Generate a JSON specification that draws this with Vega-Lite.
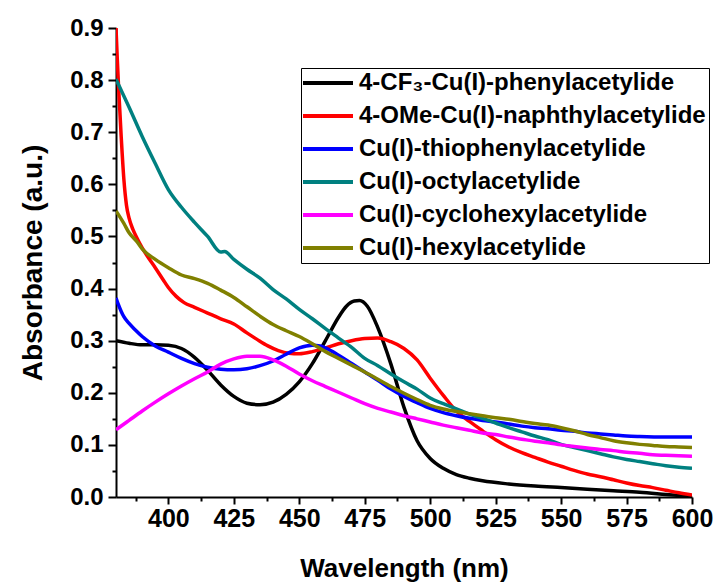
{
  "$schema": "https://vega.github.io/schema/vega-lite/v6.json",
  "width": 576,
  "height": 469,
  "autosize": "none",
  "padding": {"left": 116, "top": 28, "right": 26, "bottom": 86},
  "background": "white",
  "config": {
    "view": {"stroke": null},
    "font": "Liberation Sans",
    "axis": {
      "grid": false,
      "labelFlush": false,
      "labelOverlap": false,
      "domainColor": "#000000",
      "domainWidth": 2,
      "tickColor": "#000000",
      "tickWidth": 2,
      "labelColor": "#000000",
      "labelFont": "Liberation Sans",
      "labelFontWeight": "bold",
      "titleFont": "Liberation Sans",
      "titleFontWeight": "bold",
      "titleColor": "#000000"
    }
  },
  "datasets": {
    "spectra": [
      {"series": "4-CF₃-Cu(I)-phenylacetylide", "wavelength": 380, "absorbance": 0.300},
      {"series": "4-CF₃-Cu(I)-phenylacetylide", "wavelength": 385, "absorbance": 0.295},
      {"series": "4-CF₃-Cu(I)-phenylacetylide", "wavelength": 390, "absorbance": 0.292},
      {"series": "4-CF₃-Cu(I)-phenylacetylide", "wavelength": 395, "absorbance": 0.292},
      {"series": "4-CF₃-Cu(I)-phenylacetylide", "wavelength": 400, "absorbance": 0.291},
      {"series": "4-CF₃-Cu(I)-phenylacetylide", "wavelength": 405, "absorbance": 0.285},
      {"series": "4-CF₃-Cu(I)-phenylacetylide", "wavelength": 410, "absorbance": 0.268},
      {"series": "4-CF₃-Cu(I)-phenylacetylide", "wavelength": 415, "absorbance": 0.243},
      {"series": "4-CF₃-Cu(I)-phenylacetylide", "wavelength": 420, "absorbance": 0.215},
      {"series": "4-CF₃-Cu(I)-phenylacetylide", "wavelength": 425, "absorbance": 0.193},
      {"series": "4-CF₃-Cu(I)-phenylacetylide", "wavelength": 430, "absorbance": 0.180},
      {"series": "4-CF₃-Cu(I)-phenylacetylide", "wavelength": 435, "absorbance": 0.177},
      {"series": "4-CF₃-Cu(I)-phenylacetylide", "wavelength": 440, "absorbance": 0.182},
      {"series": "4-CF₃-Cu(I)-phenylacetylide", "wavelength": 445, "absorbance": 0.197},
      {"series": "4-CF₃-Cu(I)-phenylacetylide", "wavelength": 450, "absorbance": 0.221},
      {"series": "4-CF₃-Cu(I)-phenylacetylide", "wavelength": 455, "absorbance": 0.256},
      {"series": "4-CF₃-Cu(I)-phenylacetylide", "wavelength": 460, "absorbance": 0.300},
      {"series": "4-CF₃-Cu(I)-phenylacetylide", "wavelength": 465, "absorbance": 0.345},
      {"series": "4-CF₃-Cu(I)-phenylacetylide", "wavelength": 468, "absorbance": 0.366},
      {"series": "4-CF₃-Cu(I)-phenylacetylide", "wavelength": 471, "absorbance": 0.376},
      {"series": "4-CF₃-Cu(I)-phenylacetylide", "wavelength": 473, "absorbance": 0.377},
      {"series": "4-CF₃-Cu(I)-phenylacetylide", "wavelength": 476, "absorbance": 0.366},
      {"series": "4-CF₃-Cu(I)-phenylacetylide", "wavelength": 480, "absorbance": 0.325},
      {"series": "4-CF₃-Cu(I)-phenylacetylide", "wavelength": 485, "absorbance": 0.255},
      {"series": "4-CF₃-Cu(I)-phenylacetylide", "wavelength": 490, "absorbance": 0.172},
      {"series": "4-CF₃-Cu(I)-phenylacetylide", "wavelength": 495, "absorbance": 0.108},
      {"series": "4-CF₃-Cu(I)-phenylacetylide", "wavelength": 500, "absorbance": 0.074},
      {"series": "4-CF₃-Cu(I)-phenylacetylide", "wavelength": 505, "absorbance": 0.055},
      {"series": "4-CF₃-Cu(I)-phenylacetylide", "wavelength": 510, "absorbance": 0.043},
      {"series": "4-CF₃-Cu(I)-phenylacetylide", "wavelength": 515, "absorbance": 0.036},
      {"series": "4-CF₃-Cu(I)-phenylacetylide", "wavelength": 520, "absorbance": 0.031},
      {"series": "4-CF₃-Cu(I)-phenylacetylide", "wavelength": 530, "absorbance": 0.025},
      {"series": "4-CF₃-Cu(I)-phenylacetylide", "wavelength": 540, "absorbance": 0.021},
      {"series": "4-CF₃-Cu(I)-phenylacetylide", "wavelength": 550, "absorbance": 0.018},
      {"series": "4-CF₃-Cu(I)-phenylacetylide", "wavelength": 560, "absorbance": 0.015},
      {"series": "4-CF₃-Cu(I)-phenylacetylide", "wavelength": 570, "absorbance": 0.012},
      {"series": "4-CF₃-Cu(I)-phenylacetylide", "wavelength": 580, "absorbance": 0.009},
      {"series": "4-CF₃-Cu(I)-phenylacetylide", "wavelength": 590, "absorbance": 0.005},
      {"series": "4-CF₃-Cu(I)-phenylacetylide", "wavelength": 600, "absorbance": 0.001},

      {"series": "4-OMe-Cu(I)-naphthylacetylide", "wavelength": 380, "absorbance": 0.900},
      {"series": "4-OMe-Cu(I)-naphthylacetylide", "wavelength": 380.5, "absorbance": 0.840},
      {"series": "4-OMe-Cu(I)-naphthylacetylide", "wavelength": 381, "absorbance": 0.785},
      {"series": "4-OMe-Cu(I)-naphthylacetylide", "wavelength": 382, "absorbance": 0.690},
      {"series": "4-OMe-Cu(I)-naphthylacetylide", "wavelength": 383, "absorbance": 0.610},
      {"series": "4-OMe-Cu(I)-naphthylacetylide", "wavelength": 384, "absorbance": 0.560},
      {"series": "4-OMe-Cu(I)-naphthylacetylide", "wavelength": 385, "absorbance": 0.535},
      {"series": "4-OMe-Cu(I)-naphthylacetylide", "wavelength": 386.5, "absorbance": 0.513},
      {"series": "4-OMe-Cu(I)-naphthylacetylide", "wavelength": 388, "absorbance": 0.497},
      {"series": "4-OMe-Cu(I)-naphthylacetylide", "wavelength": 390, "absorbance": 0.478},
      {"series": "4-OMe-Cu(I)-naphthylacetylide", "wavelength": 392, "absorbance": 0.462},
      {"series": "4-OMe-Cu(I)-naphthylacetylide", "wavelength": 395, "absorbance": 0.440},
      {"series": "4-OMe-Cu(I)-naphthylacetylide", "wavelength": 398, "absorbance": 0.417},
      {"series": "4-OMe-Cu(I)-naphthylacetylide", "wavelength": 400, "absorbance": 0.402},
      {"series": "4-OMe-Cu(I)-naphthylacetylide", "wavelength": 403, "absorbance": 0.385},
      {"series": "4-OMe-Cu(I)-naphthylacetylide", "wavelength": 406, "absorbance": 0.373},
      {"series": "4-OMe-Cu(I)-naphthylacetylide", "wavelength": 410, "absorbance": 0.364},
      {"series": "4-OMe-Cu(I)-naphthylacetylide", "wavelength": 415, "absorbance": 0.353},
      {"series": "4-OMe-Cu(I)-naphthylacetylide", "wavelength": 420, "absorbance": 0.342},
      {"series": "4-OMe-Cu(I)-naphthylacetylide", "wavelength": 425, "absorbance": 0.332},
      {"series": "4-OMe-Cu(I)-naphthylacetylide", "wavelength": 430, "absorbance": 0.315},
      {"series": "4-OMe-Cu(I)-naphthylacetylide", "wavelength": 434, "absorbance": 0.302},
      {"series": "4-OMe-Cu(I)-naphthylacetylide", "wavelength": 438, "absorbance": 0.290},
      {"series": "4-OMe-Cu(I)-naphthylacetylide", "wavelength": 442, "absorbance": 0.281},
      {"series": "4-OMe-Cu(I)-naphthylacetylide", "wavelength": 446, "absorbance": 0.276},
      {"series": "4-OMe-Cu(I)-naphthylacetylide", "wavelength": 450, "absorbance": 0.275},
      {"series": "4-OMe-Cu(I)-naphthylacetylide", "wavelength": 455, "absorbance": 0.279},
      {"series": "4-OMe-Cu(I)-naphthylacetylide", "wavelength": 460, "absorbance": 0.286},
      {"series": "4-OMe-Cu(I)-naphthylacetylide", "wavelength": 465, "absorbance": 0.294},
      {"series": "4-OMe-Cu(I)-naphthylacetylide", "wavelength": 470, "absorbance": 0.300},
      {"series": "4-OMe-Cu(I)-naphthylacetylide", "wavelength": 475, "absorbance": 0.304},
      {"series": "4-OMe-Cu(I)-naphthylacetylide", "wavelength": 480, "absorbance": 0.305},
      {"series": "4-OMe-Cu(I)-naphthylacetylide", "wavelength": 485, "absorbance": 0.298},
      {"series": "4-OMe-Cu(I)-naphthylacetylide", "wavelength": 490, "absorbance": 0.285},
      {"series": "4-OMe-Cu(I)-naphthylacetylide", "wavelength": 495, "absorbance": 0.263},
      {"series": "4-OMe-Cu(I)-naphthylacetylide", "wavelength": 500, "absorbance": 0.228},
      {"series": "4-OMe-Cu(I)-naphthylacetylide", "wavelength": 505, "absorbance": 0.195},
      {"series": "4-OMe-Cu(I)-naphthylacetylide", "wavelength": 510, "absorbance": 0.165},
      {"series": "4-OMe-Cu(I)-naphthylacetylide", "wavelength": 515, "absorbance": 0.145},
      {"series": "4-OMe-Cu(I)-naphthylacetylide", "wavelength": 520, "absorbance": 0.127},
      {"series": "4-OMe-Cu(I)-naphthylacetylide", "wavelength": 525, "absorbance": 0.110},
      {"series": "4-OMe-Cu(I)-naphthylacetylide", "wavelength": 530, "absorbance": 0.096},
      {"series": "4-OMe-Cu(I)-naphthylacetylide", "wavelength": 535, "absorbance": 0.085},
      {"series": "4-OMe-Cu(I)-naphthylacetylide", "wavelength": 540, "absorbance": 0.076},
      {"series": "4-OMe-Cu(I)-naphthylacetylide", "wavelength": 545, "absorbance": 0.067},
      {"series": "4-OMe-Cu(I)-naphthylacetylide", "wavelength": 550, "absorbance": 0.059},
      {"series": "4-OMe-Cu(I)-naphthylacetylide", "wavelength": 555, "absorbance": 0.051},
      {"series": "4-OMe-Cu(I)-naphthylacetylide", "wavelength": 560, "absorbance": 0.044},
      {"series": "4-OMe-Cu(I)-naphthylacetylide", "wavelength": 565, "absorbance": 0.039},
      {"series": "4-OMe-Cu(I)-naphthylacetylide", "wavelength": 570, "absorbance": 0.033},
      {"series": "4-OMe-Cu(I)-naphthylacetylide", "wavelength": 575, "absorbance": 0.027},
      {"series": "4-OMe-Cu(I)-naphthylacetylide", "wavelength": 580, "absorbance": 0.022},
      {"series": "4-OMe-Cu(I)-naphthylacetylide", "wavelength": 585, "absorbance": 0.018},
      {"series": "4-OMe-Cu(I)-naphthylacetylide", "wavelength": 590, "absorbance": 0.013},
      {"series": "4-OMe-Cu(I)-naphthylacetylide", "wavelength": 595, "absorbance": 0.008},
      {"series": "4-OMe-Cu(I)-naphthylacetylide", "wavelength": 600, "absorbance": 0.004},

      {"series": "Cu(I)-thiophenylacetylide", "wavelength": 380, "absorbance": 0.382},
      {"series": "Cu(I)-thiophenylacetylide", "wavelength": 381, "absorbance": 0.368},
      {"series": "Cu(I)-thiophenylacetylide", "wavelength": 382, "absorbance": 0.356},
      {"series": "Cu(I)-thiophenylacetylide", "wavelength": 383, "absorbance": 0.346},
      {"series": "Cu(I)-thiophenylacetylide", "wavelength": 385, "absorbance": 0.333},
      {"series": "Cu(I)-thiophenylacetylide", "wavelength": 387.5, "absorbance": 0.320},
      {"series": "Cu(I)-thiophenylacetylide", "wavelength": 390, "absorbance": 0.308},
      {"series": "Cu(I)-thiophenylacetylide", "wavelength": 395, "absorbance": 0.290},
      {"series": "Cu(I)-thiophenylacetylide", "wavelength": 400, "absorbance": 0.278},
      {"series": "Cu(I)-thiophenylacetylide", "wavelength": 405, "absorbance": 0.266},
      {"series": "Cu(I)-thiophenylacetylide", "wavelength": 410, "absorbance": 0.256},
      {"series": "Cu(I)-thiophenylacetylide", "wavelength": 415, "absorbance": 0.249},
      {"series": "Cu(I)-thiophenylacetylide", "wavelength": 420, "absorbance": 0.245},
      {"series": "Cu(I)-thiophenylacetylide", "wavelength": 425, "absorbance": 0.244},
      {"series": "Cu(I)-thiophenylacetylide", "wavelength": 430, "absorbance": 0.246},
      {"series": "Cu(I)-thiophenylacetylide", "wavelength": 435, "absorbance": 0.252},
      {"series": "Cu(I)-thiophenylacetylide", "wavelength": 440, "absorbance": 0.261},
      {"series": "Cu(I)-thiophenylacetylide", "wavelength": 445, "absorbance": 0.274},
      {"series": "Cu(I)-thiophenylacetylide", "wavelength": 450, "absorbance": 0.286},
      {"series": "Cu(I)-thiophenylacetylide", "wavelength": 455, "absorbance": 0.291},
      {"series": "Cu(I)-thiophenylacetylide", "wavelength": 458, "absorbance": 0.290},
      {"series": "Cu(I)-thiophenylacetylide", "wavelength": 460, "absorbance": 0.286},
      {"series": "Cu(I)-thiophenylacetylide", "wavelength": 465, "absorbance": 0.272},
      {"series": "Cu(I)-thiophenylacetylide", "wavelength": 470, "absorbance": 0.256},
      {"series": "Cu(I)-thiophenylacetylide", "wavelength": 475, "absorbance": 0.240},
      {"series": "Cu(I)-thiophenylacetylide", "wavelength": 480, "absorbance": 0.224},
      {"series": "Cu(I)-thiophenylacetylide", "wavelength": 485, "absorbance": 0.207},
      {"series": "Cu(I)-thiophenylacetylide", "wavelength": 490, "absorbance": 0.193},
      {"series": "Cu(I)-thiophenylacetylide", "wavelength": 495, "absorbance": 0.181},
      {"series": "Cu(I)-thiophenylacetylide", "wavelength": 500, "absorbance": 0.170},
      {"series": "Cu(I)-thiophenylacetylide", "wavelength": 505, "absorbance": 0.162},
      {"series": "Cu(I)-thiophenylacetylide", "wavelength": 510, "absorbance": 0.156},
      {"series": "Cu(I)-thiophenylacetylide", "wavelength": 515, "absorbance": 0.151},
      {"series": "Cu(I)-thiophenylacetylide", "wavelength": 520, "absorbance": 0.147},
      {"series": "Cu(I)-thiophenylacetylide", "wavelength": 525, "absorbance": 0.144},
      {"series": "Cu(I)-thiophenylacetylide", "wavelength": 530, "absorbance": 0.140},
      {"series": "Cu(I)-thiophenylacetylide", "wavelength": 535, "absorbance": 0.136},
      {"series": "Cu(I)-thiophenylacetylide", "wavelength": 540, "absorbance": 0.133},
      {"series": "Cu(I)-thiophenylacetylide", "wavelength": 545, "absorbance": 0.131},
      {"series": "Cu(I)-thiophenylacetylide", "wavelength": 550, "absorbance": 0.128},
      {"series": "Cu(I)-thiophenylacetylide", "wavelength": 555, "absorbance": 0.126},
      {"series": "Cu(I)-thiophenylacetylide", "wavelength": 560, "absorbance": 0.123},
      {"series": "Cu(I)-thiophenylacetylide", "wavelength": 565, "absorbance": 0.121},
      {"series": "Cu(I)-thiophenylacetylide", "wavelength": 570, "absorbance": 0.119},
      {"series": "Cu(I)-thiophenylacetylide", "wavelength": 575, "absorbance": 0.117},
      {"series": "Cu(I)-thiophenylacetylide", "wavelength": 580, "absorbance": 0.116},
      {"series": "Cu(I)-thiophenylacetylide", "wavelength": 590, "absorbance": 0.115},
      {"series": "Cu(I)-thiophenylacetylide", "wavelength": 600, "absorbance": 0.115},

      {"series": "Cu(I)-octylacetylide", "wavelength": 380, "absorbance": 0.802},
      {"series": "Cu(I)-octylacetylide", "wavelength": 385, "absorbance": 0.748},
      {"series": "Cu(I)-octylacetylide", "wavelength": 390, "absorbance": 0.692},
      {"series": "Cu(I)-octylacetylide", "wavelength": 395, "absorbance": 0.640},
      {"series": "Cu(I)-octylacetylide", "wavelength": 400, "absorbance": 0.590},
      {"series": "Cu(I)-octylacetylide", "wavelength": 405, "absorbance": 0.556},
      {"series": "Cu(I)-octylacetylide", "wavelength": 410, "absorbance": 0.527},
      {"series": "Cu(I)-octylacetylide", "wavelength": 415, "absorbance": 0.500},
      {"series": "Cu(I)-octylacetylide", "wavelength": 420, "absorbance": 0.470},
      {"series": "Cu(I)-octylacetylide", "wavelength": 421.5, "absorbance": 0.471},
      {"series": "Cu(I)-octylacetylide", "wavelength": 425, "absorbance": 0.456},
      {"series": "Cu(I)-octylacetylide", "wavelength": 430, "absorbance": 0.437},
      {"series": "Cu(I)-octylacetylide", "wavelength": 435, "absorbance": 0.420},
      {"series": "Cu(I)-octylacetylide", "wavelength": 440, "absorbance": 0.398},
      {"series": "Cu(I)-octylacetylide", "wavelength": 445, "absorbance": 0.380},
      {"series": "Cu(I)-octylacetylide", "wavelength": 450, "absorbance": 0.360},
      {"series": "Cu(I)-octylacetylide", "wavelength": 455, "absorbance": 0.342},
      {"series": "Cu(I)-octylacetylide", "wavelength": 460, "absorbance": 0.323},
      {"series": "Cu(I)-octylacetylide", "wavelength": 465, "absorbance": 0.305},
      {"series": "Cu(I)-octylacetylide", "wavelength": 470, "absorbance": 0.287},
      {"series": "Cu(I)-octylacetylide", "wavelength": 475, "absorbance": 0.266},
      {"series": "Cu(I)-octylacetylide", "wavelength": 480, "absorbance": 0.252},
      {"series": "Cu(I)-octylacetylide", "wavelength": 485, "absorbance": 0.236},
      {"series": "Cu(I)-octylacetylide", "wavelength": 490, "absorbance": 0.221},
      {"series": "Cu(I)-octylacetylide", "wavelength": 495, "absorbance": 0.207},
      {"series": "Cu(I)-octylacetylide", "wavelength": 500, "absorbance": 0.190},
      {"series": "Cu(I)-octylacetylide", "wavelength": 505, "absorbance": 0.179},
      {"series": "Cu(I)-octylacetylide", "wavelength": 510, "absorbance": 0.169},
      {"series": "Cu(I)-octylacetylide", "wavelength": 515, "absorbance": 0.159},
      {"series": "Cu(I)-octylacetylide", "wavelength": 520, "absorbance": 0.151},
      {"series": "Cu(I)-octylacetylide", "wavelength": 525, "absorbance": 0.142},
      {"series": "Cu(I)-octylacetylide", "wavelength": 530, "absorbance": 0.133},
      {"series": "Cu(I)-octylacetylide", "wavelength": 535, "absorbance": 0.125},
      {"series": "Cu(I)-octylacetylide", "wavelength": 540, "absorbance": 0.117},
      {"series": "Cu(I)-octylacetylide", "wavelength": 545, "absorbance": 0.110},
      {"series": "Cu(I)-octylacetylide", "wavelength": 550, "absorbance": 0.101},
      {"series": "Cu(I)-octylacetylide", "wavelength": 555, "absorbance": 0.095},
      {"series": "Cu(I)-octylacetylide", "wavelength": 560, "absorbance": 0.089},
      {"series": "Cu(I)-octylacetylide", "wavelength": 565, "absorbance": 0.083},
      {"series": "Cu(I)-octylacetylide", "wavelength": 570, "absorbance": 0.077},
      {"series": "Cu(I)-octylacetylide", "wavelength": 575, "absorbance": 0.072},
      {"series": "Cu(I)-octylacetylide", "wavelength": 580, "absorbance": 0.068},
      {"series": "Cu(I)-octylacetylide", "wavelength": 585, "absorbance": 0.064},
      {"series": "Cu(I)-octylacetylide", "wavelength": 590, "absorbance": 0.060},
      {"series": "Cu(I)-octylacetylide", "wavelength": 595, "absorbance": 0.057},
      {"series": "Cu(I)-octylacetylide", "wavelength": 600, "absorbance": 0.055},

      {"series": "Cu(I)-cyclohexylacetylide", "wavelength": 380, "absorbance": 0.129},
      {"series": "Cu(I)-cyclohexylacetylide", "wavelength": 385, "absorbance": 0.147},
      {"series": "Cu(I)-cyclohexylacetylide", "wavelength": 390, "absorbance": 0.165},
      {"series": "Cu(I)-cyclohexylacetylide", "wavelength": 395, "absorbance": 0.182},
      {"series": "Cu(I)-cyclohexylacetylide", "wavelength": 400, "absorbance": 0.198},
      {"series": "Cu(I)-cyclohexylacetylide", "wavelength": 405, "absorbance": 0.213},
      {"series": "Cu(I)-cyclohexylacetylide", "wavelength": 410, "absorbance": 0.227},
      {"series": "Cu(I)-cyclohexylacetylide", "wavelength": 415, "absorbance": 0.240},
      {"series": "Cu(I)-cyclohexylacetylide", "wavelength": 420, "absorbance": 0.255},
      {"series": "Cu(I)-cyclohexylacetylide", "wavelength": 425, "absorbance": 0.265},
      {"series": "Cu(I)-cyclohexylacetylide", "wavelength": 430, "absorbance": 0.270},
      {"series": "Cu(I)-cyclohexylacetylide", "wavelength": 435, "absorbance": 0.270},
      {"series": "Cu(I)-cyclohexylacetylide", "wavelength": 440, "absorbance": 0.263},
      {"series": "Cu(I)-cyclohexylacetylide", "wavelength": 445, "absorbance": 0.251},
      {"series": "Cu(I)-cyclohexylacetylide", "wavelength": 450, "absorbance": 0.236},
      {"series": "Cu(I)-cyclohexylacetylide", "wavelength": 455, "absorbance": 0.223},
      {"series": "Cu(I)-cyclohexylacetylide", "wavelength": 460, "absorbance": 0.212},
      {"series": "Cu(I)-cyclohexylacetylide", "wavelength": 465, "absorbance": 0.201},
      {"series": "Cu(I)-cyclohexylacetylide", "wavelength": 470, "absorbance": 0.190},
      {"series": "Cu(I)-cyclohexylacetylide", "wavelength": 475, "absorbance": 0.179},
      {"series": "Cu(I)-cyclohexylacetylide", "wavelength": 480, "absorbance": 0.170},
      {"series": "Cu(I)-cyclohexylacetylide", "wavelength": 485, "absorbance": 0.163},
      {"series": "Cu(I)-cyclohexylacetylide", "wavelength": 490, "absorbance": 0.156},
      {"series": "Cu(I)-cyclohexylacetylide", "wavelength": 495, "absorbance": 0.150},
      {"series": "Cu(I)-cyclohexylacetylide", "wavelength": 500, "absorbance": 0.144},
      {"series": "Cu(I)-cyclohexylacetylide", "wavelength": 505, "absorbance": 0.138},
      {"series": "Cu(I)-cyclohexylacetylide", "wavelength": 510, "absorbance": 0.133},
      {"series": "Cu(I)-cyclohexylacetylide", "wavelength": 515, "absorbance": 0.128},
      {"series": "Cu(I)-cyclohexylacetylide", "wavelength": 520, "absorbance": 0.123},
      {"series": "Cu(I)-cyclohexylacetylide", "wavelength": 525, "absorbance": 0.120},
      {"series": "Cu(I)-cyclohexylacetylide", "wavelength": 530, "absorbance": 0.115},
      {"series": "Cu(I)-cyclohexylacetylide", "wavelength": 535, "absorbance": 0.111},
      {"series": "Cu(I)-cyclohexylacetylide", "wavelength": 540, "absorbance": 0.107},
      {"series": "Cu(I)-cyclohexylacetylide", "wavelength": 545, "absorbance": 0.104},
      {"series": "Cu(I)-cyclohexylacetylide", "wavelength": 550, "absorbance": 0.100},
      {"series": "Cu(I)-cyclohexylacetylide", "wavelength": 555, "absorbance": 0.097},
      {"series": "Cu(I)-cyclohexylacetylide", "wavelength": 560, "absorbance": 0.094},
      {"series": "Cu(I)-cyclohexylacetylide", "wavelength": 565, "absorbance": 0.091},
      {"series": "Cu(I)-cyclohexylacetylide", "wavelength": 570, "absorbance": 0.089},
      {"series": "Cu(I)-cyclohexylacetylide", "wavelength": 575, "absorbance": 0.086},
      {"series": "Cu(I)-cyclohexylacetylide", "wavelength": 580, "absorbance": 0.084},
      {"series": "Cu(I)-cyclohexylacetylide", "wavelength": 585, "absorbance": 0.081},
      {"series": "Cu(I)-cyclohexylacetylide", "wavelength": 590, "absorbance": 0.080},
      {"series": "Cu(I)-cyclohexylacetylide", "wavelength": 595, "absorbance": 0.079},
      {"series": "Cu(I)-cyclohexylacetylide", "wavelength": 600, "absorbance": 0.078},

      {"series": "Cu(I)-hexylacetylide", "wavelength": 380, "absorbance": 0.549},
      {"series": "Cu(I)-hexylacetylide", "wavelength": 383, "absorbance": 0.525},
      {"series": "Cu(I)-hexylacetylide", "wavelength": 385, "absorbance": 0.507},
      {"series": "Cu(I)-hexylacetylide", "wavelength": 388, "absorbance": 0.490},
      {"series": "Cu(I)-hexylacetylide", "wavelength": 390, "absorbance": 0.476},
      {"series": "Cu(I)-hexylacetylide", "wavelength": 395, "absorbance": 0.456},
      {"series": "Cu(I)-hexylacetylide", "wavelength": 400, "absorbance": 0.440},
      {"series": "Cu(I)-hexylacetylide", "wavelength": 405, "absorbance": 0.426},
      {"series": "Cu(I)-hexylacetylide", "wavelength": 410, "absorbance": 0.419},
      {"series": "Cu(I)-hexylacetylide", "wavelength": 415, "absorbance": 0.410},
      {"series": "Cu(I)-hexylacetylide", "wavelength": 420, "absorbance": 0.397},
      {"series": "Cu(I)-hexylacetylide", "wavelength": 425, "absorbance": 0.383},
      {"series": "Cu(I)-hexylacetylide", "wavelength": 430, "absorbance": 0.365},
      {"series": "Cu(I)-hexylacetylide", "wavelength": 435, "absorbance": 0.347},
      {"series": "Cu(I)-hexylacetylide", "wavelength": 440, "absorbance": 0.331},
      {"series": "Cu(I)-hexylacetylide", "wavelength": 445, "absorbance": 0.319},
      {"series": "Cu(I)-hexylacetylide", "wavelength": 450, "absorbance": 0.308},
      {"series": "Cu(I)-hexylacetylide", "wavelength": 455, "absorbance": 0.294},
      {"series": "Cu(I)-hexylacetylide", "wavelength": 460, "absorbance": 0.279},
      {"series": "Cu(I)-hexylacetylide", "wavelength": 465, "absorbance": 0.266},
      {"series": "Cu(I)-hexylacetylide", "wavelength": 470, "absorbance": 0.253},
      {"series": "Cu(I)-hexylacetylide", "wavelength": 475, "absorbance": 0.240},
      {"series": "Cu(I)-hexylacetylide", "wavelength": 480, "absorbance": 0.226},
      {"series": "Cu(I)-hexylacetylide", "wavelength": 485, "absorbance": 0.212},
      {"series": "Cu(I)-hexylacetylide", "wavelength": 490, "absorbance": 0.199},
      {"series": "Cu(I)-hexylacetylide", "wavelength": 495, "absorbance": 0.187},
      {"series": "Cu(I)-hexylacetylide", "wavelength": 500, "absorbance": 0.176},
      {"series": "Cu(I)-hexylacetylide", "wavelength": 505, "absorbance": 0.169},
      {"series": "Cu(I)-hexylacetylide", "wavelength": 510, "absorbance": 0.164},
      {"series": "Cu(I)-hexylacetylide", "wavelength": 515, "absorbance": 0.160},
      {"series": "Cu(I)-hexylacetylide", "wavelength": 520, "absorbance": 0.156},
      {"series": "Cu(I)-hexylacetylide", "wavelength": 525, "absorbance": 0.152},
      {"series": "Cu(I)-hexylacetylide", "wavelength": 530, "absorbance": 0.149},
      {"series": "Cu(I)-hexylacetylide", "wavelength": 535, "absorbance": 0.145},
      {"series": "Cu(I)-hexylacetylide", "wavelength": 540, "absorbance": 0.141},
      {"series": "Cu(I)-hexylacetylide", "wavelength": 545, "absorbance": 0.138},
      {"series": "Cu(I)-hexylacetylide", "wavelength": 550, "absorbance": 0.133},
      {"series": "Cu(I)-hexylacetylide", "wavelength": 555, "absorbance": 0.127},
      {"series": "Cu(I)-hexylacetylide", "wavelength": 560, "absorbance": 0.120},
      {"series": "Cu(I)-hexylacetylide", "wavelength": 565, "absorbance": 0.114},
      {"series": "Cu(I)-hexylacetylide", "wavelength": 570, "absorbance": 0.108},
      {"series": "Cu(I)-hexylacetylide", "wavelength": 575, "absorbance": 0.104},
      {"series": "Cu(I)-hexylacetylide", "wavelength": 580, "absorbance": 0.101},
      {"series": "Cu(I)-hexylacetylide", "wavelength": 585, "absorbance": 0.099},
      {"series": "Cu(I)-hexylacetylide", "wavelength": 590, "absorbance": 0.097},
      {"series": "Cu(I)-hexylacetylide", "wavelength": 595, "absorbance": 0.096},
      {"series": "Cu(I)-hexylacetylide", "wavelength": 600, "absorbance": 0.095}
    ]
  },
  "data": {"name": "spectra"},
  "resolve": {"axis": {"x": "independent", "y": "independent"}},
  "layer": [
    {
      "mark": {"type": "point", "opacity": 0},
      "encoding": {
        "x": {
          "field": "wavelength", "type": "quantitative",
          "scale": {"domain": [380, 600], "nice": false, "zero": false},
          "axis": {
            "orient": "bottom",
            "values": [387.5, 412.5, 437.5, 462.5, 487.5, 512.5, 537.5, 562.5, 587.5],
            "labels": false, "domain": false, "tickSize": 4, "title": null
          }
        },
        "y": {
          "field": "absorbance", "type": "quantitative",
          "scale": {"domain": [0, 0.9], "nice": false, "zero": false},
          "axis": {
            "orient": "left",
            "values": [0.05, 0.15, 0.25, 0.35, 0.45, 0.55, 0.65, 0.75, 0.85],
            "labels": false, "domain": false, "tickSize": 4, "title": null
          }
        }
      }
    },
    {
      "mark": {"type": "line", "strokeWidth": 3.5, "clip": true, "interpolate": "monotone"},
      "encoding": {
        "x": {
          "field": "wavelength", "type": "quantitative",
          "scale": {"domain": [380, 600], "nice": false, "zero": false},
          "axis": {
            "orient": "bottom",
            "values": [400, 425, 450, 475, 500, 525, 550, 575, 600],
            "tickSize": 7,
            "labelFontSize": 25,
            "labelPadding": 2,
            "title": "Wavelength (nm)",
            "titleFontSize": 26,
            "titlePadding": 24
          }
        },
        "y": {
          "field": "absorbance", "type": "quantitative",
          "scale": {"domain": [0, 0.9], "nice": false, "zero": false},
          "axis": {
            "orient": "left",
            "values": [0, 0.1, 0.2, 0.3, 0.4, 0.5, 0.6, 0.7, 0.8, 0.9],
            "format": ".1f",
            "tickSize": 8,
            "labelFontSize": 24,
            "labelPadding": 5,
            "title": "Absorbance (a.u.)",
            "titleFontSize": 28,
            "titlePadding": 22
          }
        },
        "color": {
          "field": "series", "type": "nominal",
          "scale": {
            "domain": ["4-CF₃-Cu(I)-phenylacetylide", "4-OMe-Cu(I)-naphthylacetylide", "Cu(I)-thiophenylacetylide", "Cu(I)-octylacetylide", "Cu(I)-cyclohexylacetylide", "Cu(I)-hexylacetylide"],
            "range": ["#000000", "#FF0000", "#0000FF", "#008080", "#FF00FF", "#808000"]
          },
          "legend": {
            "orient": "none",
            "legendX": 185,
            "legendY": 40,
            "title": null,
            "labelFont": "Liberation Sans",
            "labelFontSize": 24,
            "labelFontWeight": "bold",
            "labelColor": "#000000",
            "labelLimit": 500,
            "symbolType": "M-5,0H5",
            "symbolSize": 100,
            "symbolStrokeWidth": 4,
            "symbolOffset": 12,
            "labelOffset": 19,
            "rowPadding": 9,
            "padding": 3,
            "strokeColor": "#000000",
            "fillColor": "#FFFFFF"
          }
        }
      }
    }
  ]
}
